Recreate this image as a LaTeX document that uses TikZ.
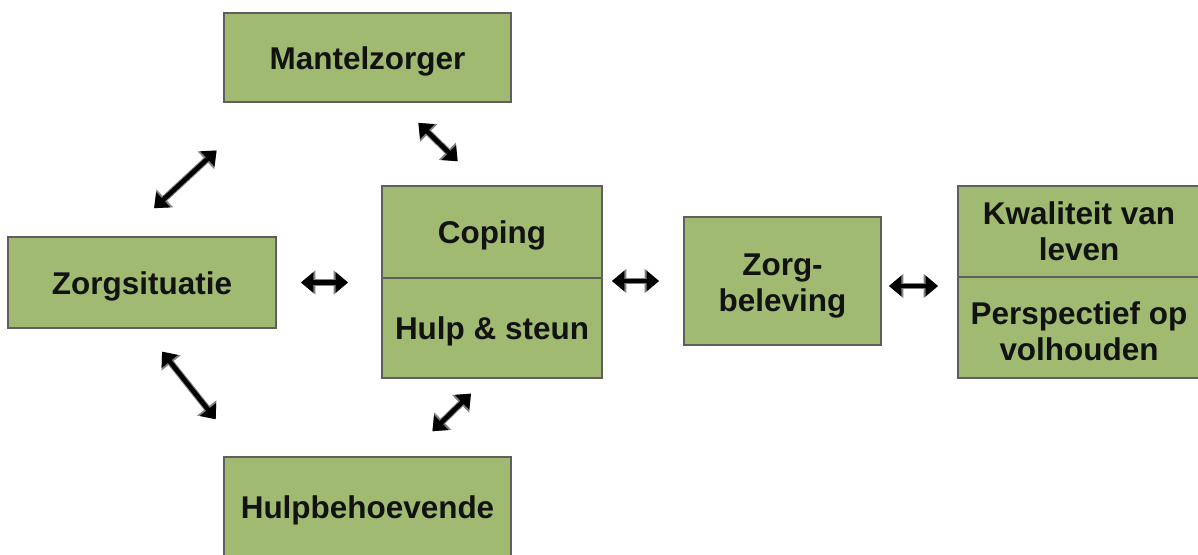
\documentclass[tikz,border=0pt]{standalone}
\usepackage{fontspec}
\setmainfont{Liberation Sans}
\usetikzlibrary{arrows.meta}
\definecolor{olijf}{RGB}{160,186,113}
\definecolor{rand}{RGB}{95,95,95}
\newcommand\hoog{\rule{0pt}{17pt}}
\tikzset{block/.style={draw=rand,line width=1.1pt,fill=olijf,align=center,inner sep=0pt,
    text=black!93,font=\fontsize{17.9}{20.5}\selectfont\bfseries,execute at begin node=\hoog},
  link/.style={{Triangle[length=0.25cm,width=0.4cm]}-{Triangle[length=0.25cm,width=0.4cm]},line width=2.6pt,black,
    preaction={draw,gray,line width=3.8pt,{Triangle[length=0.29cm,width=0.47cm]}-{Triangle[length=0.29cm,width=0.47cm]}}}}
\begin{document}
\begin{tikzpicture}
  \useasboundingbox (0,0) rectangle (23.96,-11.08);
  % blokken
  \node[block,minimum width=5.74cm,minimum height=1.78cm] (mantel) at (7.35,-1.15) {Mantelzorger};
  \node[block,minimum width=5.36cm,minimum height=1.82cm] (situatie) at (2.84,-5.65) {Zorgsituatie};
  \node[block,minimum width=4.4cm,minimum height=1.84cm] (coping) at (9.84,-4.64) {Coping};
  \node[block,minimum width=4.4cm,minimum height=2.0cm] (hulp) at (9.84,-6.56) {Hulp \& steun};
  \node[block,minimum width=3.94cm,minimum height=2.56cm] (beleving) at (15.65,-5.62) {\rule{0pt}{18pt}Zorg-\\beleving};
  \node[block,minimum width=4.84cm,minimum height=1.82cm] (kwaliteit) at (21.58,-4.63) {Kwaliteit van\\leven};
  \node[block,minimum width=4.84cm,minimum height=2.02cm] (perspectief) at (21.58,-6.55) {\hoog Perspectief op\\volhouden};
  \node[block,minimum width=5.74cm,minimum height=2.0cm] (hulpbeh) at (7.35,-10.14) {Hulpbehoevende};
  % pijlen
  \draw[link,shorten <=0.48cm,shorten >=0.66cm] (situatie.east) -- (situatie.east -| hulp.west);
  \draw[link,shorten <=0.18cm,shorten >=0.48cm] (beleving.west -| hulp.east) -- (beleving.west);
  \draw[link,shorten <=0.14cm,shorten >=0.38cm] ([yshift=-0.1cm]beleving.east) -- ([yshift=-0.1cm]beleving.east -| perspectief.west);
  \draw[link,shorten <=0.57cm,shorten >=0.68cm] ([xshift=0.61cm]mantel.south) -- ([xshift=-0.2cm]coping.north);
  \draw[link,shorten <=0.82cm,shorten >=1.4cm] ([xshift=-0.36cm]situatie.north) -- ([xshift=-1.99cm]mantel.south);
  \draw[link,shorten <=0.58cm,shorten >=0.94cm] ([xshift=0.04cm]situatie.south) -- ([xshift=-2.45cm]hulpbeh.north);
  \draw[link,shorten <=0.42cm,shorten >=0.71cm] ([xshift=-0.12cm]hulp.south) -- ([xshift=0.79cm]hulpbeh.north);
\end{tikzpicture}
\end{document}
